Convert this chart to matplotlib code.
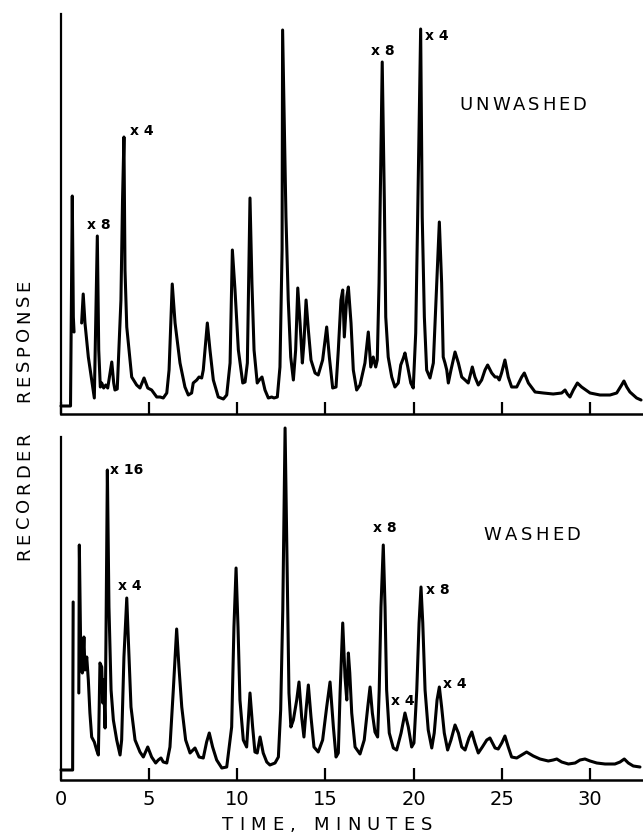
import matplotlib
matplotlib.use("Agg")
import matplotlib.pyplot as plt

# ---------------- data (time in minutes, recorder response in arbitrary units) ----------------
# UNWASHED trace (pen lifts between segments at attenuation changes)
unw_seg1_t = [0.00, 0.54, 0.64, 0.70, 0.74]
unw_seg1_r = [8, 8, 218, 97, 82]

unw_seg2_t = [1.17, 1.26, 1.36, 1.55, 1.74, 1.89, 2.06, 2.14, 2.23, 2.31, 2.42, 2.54, 2.65, 2.88, 2.99,
              3.06, 3.19, 3.40, 3.49, 3.57, 3.63, 3.73, 4.01, 4.29, 4.48, 4.71, 4.92, 5.14, 5.43, 5.62,
              5.80, 6.00, 6.13, 6.31, 6.47, 6.75, 7.03, 7.22, 7.41, 7.50, 7.70, 7.83, 7.98, 8.07, 8.30,
              8.45, 8.64, 8.92, 9.21, 9.40, 9.59, 9.72, 9.87, 10.06, 10.31, 10.44, 10.57, 10.72, 10.83,
              10.95, 11.13, 11.25, 11.40, 11.57, 11.76, 11.95, 12.08, 12.27, 12.42, 12.54, 12.57, 12.76,
              12.89, 13.03, 13.18, 13.31, 13.43, 13.56, 13.69, 13.78, 13.90, 14.03, 14.18, 14.41, 14.59,
              14.84, 15.07, 15.22, 15.41, 15.60, 15.73, 15.88, 15.98, 16.07, 16.21, 16.30, 16.45, 16.58,
              16.77, 16.96, 17.24, 17.43, 17.57, 17.71, 17.85, 17.94, 18.04, 18.22, 18.34, 18.42, 18.56,
              18.76, 18.94, 19.13, 19.27, 19.42, 19.51, 19.67, 19.84, 19.98, 20.12, 20.23, 20.40, 20.49,
              20.61, 20.74, 20.93, 21.12, 21.31, 21.46, 21.59, 21.68, 21.78, 21.88, 21.97, 22.12, 22.35,
              22.54, 22.73, 22.92, 23.10, 23.33, 23.48, 23.67, 23.86, 24.05, 24.20, 24.43, 24.62, 24.75,
              24.86, 24.99, 25.18, 25.37, 25.56, 25.85, 26.13, 26.28, 26.51, 26.89, 27.36, 27.92, 28.40,
              28.59, 28.72, 28.87, 29.06, 29.29, 29.53, 30.01, 30.57, 31.14, 31.52, 31.80, 31.93, 32.09,
              32.27, 32.65, 32.90]
unw_seg2_r = [91, 120, 91, 57, 34, 16, 178, 64, 27, 31, 26, 29, 26, 52, 31,
              24, 25, 114, 214, 277, 144, 87, 37, 29, 26, 36, 26, 24, 17, 17,
              16, 21, 44, 130, 91, 51, 27, 19, 21, 31, 34, 37, 36, 44, 91,
              64, 34, 17, 15, 19, 51, 164, 124, 64, 31, 32, 51, 216, 131,
              64, 31, 34, 37, 24, 16, 17, 16, 17, 47, 164, 384, 197,
              114, 57, 34, 64, 126, 91, 51, 71, 114, 84, 54, 41, 39,
              54, 87, 57, 26, 27, 64, 114, 124, 77, 117, 127, 91, 44,
              24, 29, 51, 82, 47, 57, 47, 54, 131, 352, 214, 97, 57,
              37, 27, 31, 49, 56, 61, 47, 31, 26, 81, 197, 385, 197,
              97, 44, 36, 51, 131, 192, 131, 57, 51, 44, 31, 44, 62,
              51, 37, 34, 31, 47, 37, 29, 34, 44, 49, 41, 37, 37,
              34, 41, 54, 37, 27, 27, 37, 41, 31, 22, 21, 20, 21,
              24, 20, 17, 24, 31, 27, 21, 19, 19, 21, 29, 33, 27,
              22, 16, 14]

# WASHED trace
was_seg1_t = [0.00, 0.66, 0.69]
was_seg1_r = [10, 10, 178]

was_seg2_t = [1.01, 1.04, 1.13, 1.21, 1.30, 1.36, 1.46, 1.55, 1.64, 1.74, 1.89, 2.02, 2.12, 2.21, 2.31,
              2.37, 2.42, 2.50, 2.55, 2.63, 2.72, 2.84, 2.97, 3.16, 3.35, 3.44, 3.57, 3.73, 3.82, 3.97,
              4.20, 4.48, 4.67, 4.92, 5.14, 5.37, 5.52, 5.67, 5.80, 6.00, 6.18, 6.37, 6.56, 6.69, 6.85,
              7.07, 7.32, 7.60, 7.83, 8.07, 8.26, 8.41, 8.60, 8.83, 9.12, 9.40, 9.68, 9.81, 9.93, 10.04,
              10.15, 10.34, 10.53, 10.72, 10.87, 11.00, 11.13, 11.29, 11.47, 11.67, 11.85, 12.14, 12.33,
              12.46, 12.58, 12.71, 12.85, 12.93, 13.04, 13.18, 13.37, 13.50, 13.65, 13.78, 13.90, 14.03,
              14.18, 14.35, 14.59, 14.84, 15.07, 15.26, 15.45, 15.60, 15.73, 15.83, 15.98, 16.11, 16.21,
              16.30, 16.38, 16.49, 16.68, 16.96, 17.20, 17.40, 17.53, 17.66, 17.81, 17.96, 18.05, 18.15,
              18.28, 18.38, 18.47, 18.62, 18.85, 19.04, 19.29, 19.51, 19.70, 19.89, 20.02, 20.18, 20.31,
              20.42, 20.52, 20.65, 20.83, 21.03, 21.17, 21.33, 21.46, 21.59, 21.74, 21.93, 22.12, 22.35,
              22.54, 22.73, 22.92, 23.14, 23.30, 23.48, 23.67, 23.90, 24.15, 24.33, 24.62, 24.80, 25.00,
              25.18, 25.37, 25.56, 25.85, 26.13, 26.41, 26.79, 27.17, 27.64, 27.92, 28.12, 28.40, 28.78,
              29.16, 29.44, 29.72, 30.01, 30.39, 30.86, 31.42, 31.71, 31.95, 32.18, 32.46, 32.84]
was_seg2_r = [87, 235, 113, 107, 143, 110, 123, 100, 67, 43, 38, 30, 25, 117, 113,
              77, 100, 52, 140, 310, 173, 90, 60, 40, 25, 40, 123, 182, 140, 73,
              40, 28, 23, 33, 23, 17, 20, 22, 18, 17, 33, 90, 151, 113, 73,
              40, 27, 32, 23, 22, 38, 47, 33, 20, 12, 13, 53, 153, 212, 153,
              80, 40, 33, 87, 53, 28, 27, 43, 27, 18, 15, 17, 23,
              70, 170, 352, 187, 87, 53, 60, 80, 98, 63, 43, 70, 95,
              63, 33, 28, 40, 73, 98, 53, 23, 27, 87, 157, 103, 80,
              127, 107, 67, 33, 26, 40, 73, 93, 67, 48, 43, 90, 173,
              235, 173, 90, 47, 32, 30, 47, 67, 53, 33, 37, 90, 157,
              193, 157, 90, 50, 32, 47, 80, 93, 73, 47, 30, 40, 55,
              47, 33, 30, 42, 48, 37, 27, 33, 40, 42, 32, 31, 37,
              44, 33, 23, 22, 25, 28, 24, 21, 19, 20, 21, 18, 16,
              17, 20, 21, 19, 17, 16, 16, 18, 21, 17, 14, 13]

time_ticks = [0, 5, 10, 15, 20, 25, 30]
tick_labels = ["0", "5", "10", "15", "20", "25", "30"]

unw_marks = [("x 8", 2.16, 189), ("x 4", 4.59, 283), ("x 8", 18.26, 363), ("x 4", 21.33, 378)]
was_marks = [("x 16", 3.74, 310), ("x 4", 3.91, 194), ("x 8", 18.38, 252), ("x 8", 21.38, 190),
             ("x 4", 19.40, 79), ("x 4", 22.35, 96)]

# ---------------- figure ----------------
W, H = 643, 838
fig = plt.figure(figsize=(W / 100, H / 100), dpi=100)
FONT = "DejaVu Sans"
LW = 2.2
XMAX = 582 / 17.63

ax1 = fig.add_axes([61 / W, (H - 414) / H, 582 / W, 400 / H])
ax2 = fig.add_axes([61 / W, (H - 780) / H, 582 / W, 355 / H])

ax1.set_ylim(0, 400)
ax2.set_ylim(0, 355)
ax2.spines["left"].set_bounds(0, 343)

for ax in (ax1, ax2):
    ax.set_xlim(0, XMAX)
    for s in ("top", "right"):
        ax.spines[s].set_visible(False)
    ax.spines["left"].set_linewidth(1.6)
    ax.spines["bottom"].set_linewidth(1.8)
    ax.set_yticks([])
    ax.set_xticks(time_ticks)
    ax.tick_params(axis="x", direction="in", length=9, width=1.6, pad=7)
    ax.patch.set_alpha(0)

ax1.tick_params(axis="x", labelbottom=False)
ax2.set_xticklabels(tick_labels, fontsize=14, family=FONT)

for ax, segs in ((ax1, [(unw_seg1_t, unw_seg1_r), (unw_seg2_t, unw_seg2_r)]),
                 (ax2, [(was_seg1_t, was_seg1_r), (was_seg2_t, was_seg2_r)])):
    for t, r in segs:
        ax.plot(t, r, color="black", lw=LW, solid_joinstyle="round", solid_capstyle="round",
                clip_on=False)

for ax, marks in ((ax1, unw_marks), (ax2, was_marks)):
    for txt, t, r in marks:
        ax.text(t, r, txt, fontsize=10, family=FONT, fontweight="bold", ha="center", va="center")

renderer = fig.canvas.get_renderer()


def char_widths(s, size, weight):
    ws = []
    for ch in s:
        if ch == " ":
            ws.append(0.318 * size * 100 / 72)
            continue
        t = fig.text(0, 0, ch, fontsize=size, family=FONT, fontweight=weight)
        ws.append(t.get_window_extent(renderer).width)
        t.remove()
    return ws


def letter_spaced(cx, cy, s, total, size=13, rotation=0, weight="normal"):
    """Place letters of s so the string spans `total` pixels, centred on pixel (cx, cy)."""
    ws = char_widths(s, size, weight)
    gap = (total - sum(ws)) / (len(s) - 1)
    pos = -total / 2
    for ch, w in zip(s, ws):
        c = pos + w / 2
        if rotation:
            fx, fy = cx / W, 1 - (cy - c) / H
        else:
            fx, fy = (cx + c) / W, 1 - cy / H
        if ch != " ":
            fig.text(fx, fy, ch, ha="center", va="center", fontsize=size, family=FONT,
                     rotation=rotation, fontweight=weight)
        pos += w + gap


letter_spaced(523, 105, "UNWASHED", 127)
letter_spaced(532, 535, "WASHED", 97)
letter_spaced(327, 825, "TIME, MINUTES", 211)
letter_spaced(24, 341, "RESPONSE", 123, rotation=90)
letter_spaced(24, 496, "RECORDER", 128, rotation=90)

fig.savefig("out.png", dpi=100)
